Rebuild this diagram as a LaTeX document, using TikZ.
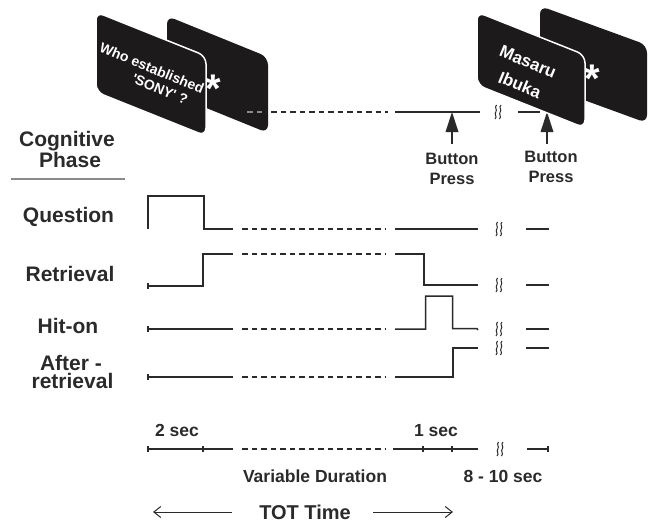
\documentclass[tikz,border=0pt]{standalone}
\usepackage{fontspec}
\setmainfont{Liberation Sans}
\usetikzlibrary{arrows.meta}
\definecolor{ink}{HTML}{2A2A2A}
\definecolor{cardc}{HTML}{1C1A1A}
\definecolor{rulec}{HTML}{8A8A8A}
\tikzset{
  lbl/.style={font=\fontsize{21}{21}\selectfont\bfseries, text=ink, inner sep=0pt, anchor=base},
  sml/.style={font=\fontsize{17.5}{18}\selectfont\bfseries, text=ink, inner sep=0pt, anchor=base},
  btn/.style={font=\fontsize{16.5}{18}\selectfont\bfseries, text=ink, inner sep=0pt, anchor=base},
  tot/.style={font=\fontsize{20}{20}\selectfont\bfseries, text=ink, inner sep=0pt, anchor=base},
  cardtxt/.style={text=white, inner sep=0pt, rotate=-22.5},
  startxt/.style={font=\fontsize{40}{40}\selectfont\bfseries, text=white, inner sep=0pt, anchor=base},
  sig/.style={draw=ink, line width=1.5pt},
  dsh/.style={draw=ink, line width=1.5pt, dash pattern=on 5.5pt off 4pt},
  cardback/.style={fill=cardc, rounded corners=8pt},
  cardfront/.style={fill=cardc, draw=white, line width=1.5pt, rounded corners=8pt},
  brk/.pic={
    \draw[ink, line width=1pt] (-1.4,-7) .. controls (-4.2,-4.5) and (-0.2,-2.5) .. (-2.2,0) .. controls (-4.2,2.5) and (-0.2,4.5) .. (-3,7);
    \draw[ink, line width=1pt] (3,-7) .. controls (0.2,-4.5) and (4.2,-2.5) .. (2.2,0) .. controls (0.2,2.5) and (4.2,4.5) .. (1.4,7);
  }
}
\begin{document}
\begin{tikzpicture}[x=1pt,y=-1pt]
\useasboundingbox (0,0) rectangle (648,522);

% ---------- left card pair ----------
\fill[cardback] (167,16) -- (268,57) -- (268,133) -- (167,92) -- cycle;
\node[startxt] (star1) at (213,102) {*};
\draw[dsh, draw=rulec] (247,112) -- (266,112);
\draw[dsh] (271,112) -- (388,112);
\filldraw[cardfront] (96,12) -- (206,56) -- (206,136) -- (96,92) -- cycle;
\node[cardtxt, font=\fontsize{14}{14}\selectfont\bfseries] (q1) at (152,68) {Who established};
\node[cardtxt, font=\fontsize{14}{14}\selectfont\bfseries] (q2) at (160,89) {\textquotesingle SONY\textquotesingle\ ?};

% ---------- top response line ----------
\draw[sig] (395,112) -- (480,112);
\pic at (498,112) {brk};
\draw[sig] (518,112) -- (540,112);

% button press arrows
\fill[ink] (452,112) -- (458.5,132) -- (445.5,132) -- cycle;
\draw[ink, line width=2pt] (452,131) -- (452,144);
\fill[ink] (547,112) -- (553.5,132) -- (540.5,132) -- cycle;
\draw[ink, line width=2pt] (547,131) -- (547,144);
\node[btn] (b1a) at (452,164) {Button};
\node[btn] (b1b) at (452,184) {Press};
\node[btn] (b2a) at (551,162) {Button};
\node[btn] (b2b) at (551,182) {Press};

% ---------- right card pair ----------
\fill[cardback] (540,6) -- (647,45) -- (647,123) -- (540,84) -- cycle;
\node[startxt] (star2) at (592,92) {*};
\filldraw[cardfront] (477,12) -- (585,55) -- (585,128) -- (477,85) -- cycle;
\node[cardtxt, font=\fontsize{17}{17}\selectfont\bfseries] (a1) at (528,62) {Masaru};
\node[cardtxt, font=\fontsize{17}{17}\selectfont\bfseries] (a2) at (520,85) {Ibuka};

% ---------- phase labels ----------
\node[lbl] (cog) at (67,146) {Cognitive};
\node[lbl] (pha) at (70,167) {Phase};
\draw[rulec, line width=1.3pt] (11,179) -- (125,179);
\node[lbl] (lq) at (68.5,222) {Question};
\node[lbl] (lr) at (70,281) {Retrieval};
\node[lbl] (lh) at (68,333) {Hit-on};
\node[lbl] (la1) at (71,370.5) {After -};
\node[lbl] (la2) at (72.5,388) {retrieval};

% ---------- Question ----------
\draw[sig] (148,229) -- (148,196) -- (204,196) -- (204,229) -- (233,229);
\draw[dsh] (242,229) -- (385,229);
\draw[sig] (395,229) -- (478,229);
\pic at (499,229) {brk};
\draw[sig] (526,229) -- (549,229);

% ---------- Retrieval ----------
\draw[sig] (148,283) -- (148,289);
\draw[sig] (148,286) -- (203,286) -- (203,254) -- (233,254);
\draw[dsh] (242,254) -- (385,254);
\draw[sig] (395,254) -- (424,254) -- (424,285) -- (478,285);
\pic at (499,285) {brk};
\draw[sig] (526,285) -- (549,285);

% ---------- Hit-on ----------
\draw[sig] (148,326) -- (148,332);
\draw[sig] (148,329) -- (233,329);
\draw[dsh] (242,329) -- (385,329);
\draw[sig] (395,329) -- (425.5,329) -- (425.5,296) -- (452.5,296) -- (452.5,328.5) -- (477,328.5) -- (478,330);
\pic at (499,329) {brk};
\draw[sig] (526,329) -- (549,329);

% ---------- After-retrieval ----------
\draw[sig] (148,374) -- (148,380);
\draw[sig] (148,377) -- (233,377);
\draw[dsh] (242,377) -- (385,377);
\draw[sig] (395,377) -- (453,377) -- (453,348) -- (478,348);
\pic at (499,348) {brk};
\draw[sig] (526,348) -- (549,348);

% ---------- time axis ----------
\draw[sig] (148,449) -- (233,449);
\draw[sig] (148,446) -- (148,452);
\draw[sig] (203,446) -- (203,452);
\draw[dsh] (242,449) -- (385,449);
\draw[sig] (393,449) -- (478,449);
\draw[sig] (423,446) -- (423,452);
\draw[sig] (452,446) -- (452,452);
\pic at (500,449) {brk};
\draw[sig] (527,449) -- (548,449);
\draw[sig] (548,446) -- (548,452);

\node[sml] (t2) at (177,436) {2 sec};
\node[sml] (t1) at (436,436) {1 sec};
\node[sml] (tv) at (315,482) {Variable Duration};
\node[sml] (t8) at (503,482) {8 - 10 sec};

\node[tot] (tt) at (305,519) {TOT Time};
\coordinate (lt) at (153,512);
\coordinate (rt) at (453,512);
\draw[ink, line width=1pt, -{Straight Barb[length=7pt,width=11pt]}] (232,512) -- (lt);
\draw[ink, line width=1pt, -{Straight Barb[length=7pt,width=11pt]}] (373,512) -- (rt);
\end{tikzpicture}
\end{document}
